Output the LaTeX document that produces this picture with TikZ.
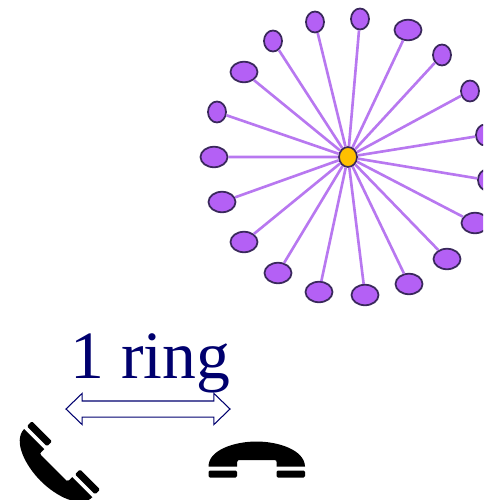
\documentclass[tikz,border=0pt]{standalone}
\usepackage{fontspec}
\setmainfont{Liberation Serif}
\usetikzlibrary{shapes.geometric,shapes.arrows}
\definecolor{leaf_fill}{RGB}{180,96,245}
\definecolor{spoke_col}{RGB}{184,120,240}
\definecolor{edge_col}{RGB}{58,40,92}
\definecolor{hub_fill}{RGB}{255,192,0}
\definecolor{ink}{RGB}{0,0,110}

\begin{document}
\begin{tikzpicture}[x=0.04cm,y=-0.04cm,
	leaf_node/.style={ellipse,draw=edge_col,fill=leaf_fill,line width=2pt,inner sep=0pt,minimum width=0.72cm,minimum height=0.84cm},
	wide_node/.style={leaf_node,minimum width=1.08cm,minimum height=0.82cm},
	hub_node/.style={leaf_node,fill=hub_fill,minimum width=0.72cm,minimum height=0.8cm},
	spoke/.style={draw=spoke_col,line width=3pt},
	handset/.pic={
		\fill (-48,-7.5) .. controls (-48,-24) and (-22,-32.5) .. (0,-32.5) .. controls (22,-32.5) and (48,-24) .. (48.5,-7.5) -- (20,-7.5) -- (20,-12) .. controls (20,-13.5) .. (18,-14) -- (-18,-14) .. controls (-19.5,-13.5) .. (-19.5,-12) -- (-19.5,-7.5) -- cycle;
		\fill[rounded corners=1.5pt] (-48,-3.5) rectangle (-19.5,3.5);
		\fill[rounded corners=1.5pt] (20,-3.5) rectangle (48.5,3.5);
	}]
	\useasboundingbox (0,0) rectangle (483,500);
	\clip (0,0) rectangle (483,500);

	% ring
	\node[hub_node] (hub) at (348,157) {};
	\node[leaf_node] (1) at (360,19) {};
	\node[wide_node] (2) at (408,30) {};
	\node[leaf_node] (3) at (442,55) {};
	\node[leaf_node] (4) at (470,91) {};
	\node[leaf_node] (5) at (485,135) {};
	\node[leaf_node] (6) at (487,180) {};
	\node[wide_node] (7) at (475,223) {};
	\node[wide_node] (8) at (447,259) {};
	\node[wide_node] (9) at (409,284) {};
	\node[wide_node] (10) at (365,295) {};
	\node[wide_node] (11) at (319,292) {};
	\node[wide_node] (12) at (278,273) {};
	\node[wide_node] (13) at (244,242) {};
	\node[wide_node] (14) at (222,202) {};
	\node[wide_node] (15) at (214,157) {};
	\node[leaf_node] (16) at (217,112) {};
	\node[wide_node] (17) at (244,72) {};
	\node[leaf_node] (18) at (273,41) {};
	\node[leaf_node] (19) at (315,22) {};

	\draw[spoke] (1) -- (hub) -- (2);
	\draw[spoke] (3) -- (hub) -- (4);
	\draw[spoke] (5) -- (hub) -- (6);
	\draw[spoke] (7) -- (hub) -- (8);
	\draw[spoke] (9) -- (hub) -- (10);
	\draw[spoke] (11) -- (hub) -- (12);
	\draw[spoke] (13) -- (hub) -- (14);
	\draw[spoke] (15) -- (hub) -- (16);
	\draw[spoke] (17) -- (hub) -- (18);
	\draw[spoke] (19) -- (hub);

	% caption and phones
	\node[anchor=base,text=ink,font=\fontsize{77}{77}\selectfont,inner sep=0pt] (label) at (150.5,378) {1 ring};
	\node[double arrow,draw=ink,line width=1.2pt,inner xsep=0pt,inner ysep=0.3cm,minimum height=6.56cm,double arrow head extend=0.3cm,double arrow tip angle=88] (span) at (148,409) {};
	\pic at (256.5,474) {handset};
	\pic[rotate=135] at (63.7,458) {handset};
\end{tikzpicture}
\end{document}
